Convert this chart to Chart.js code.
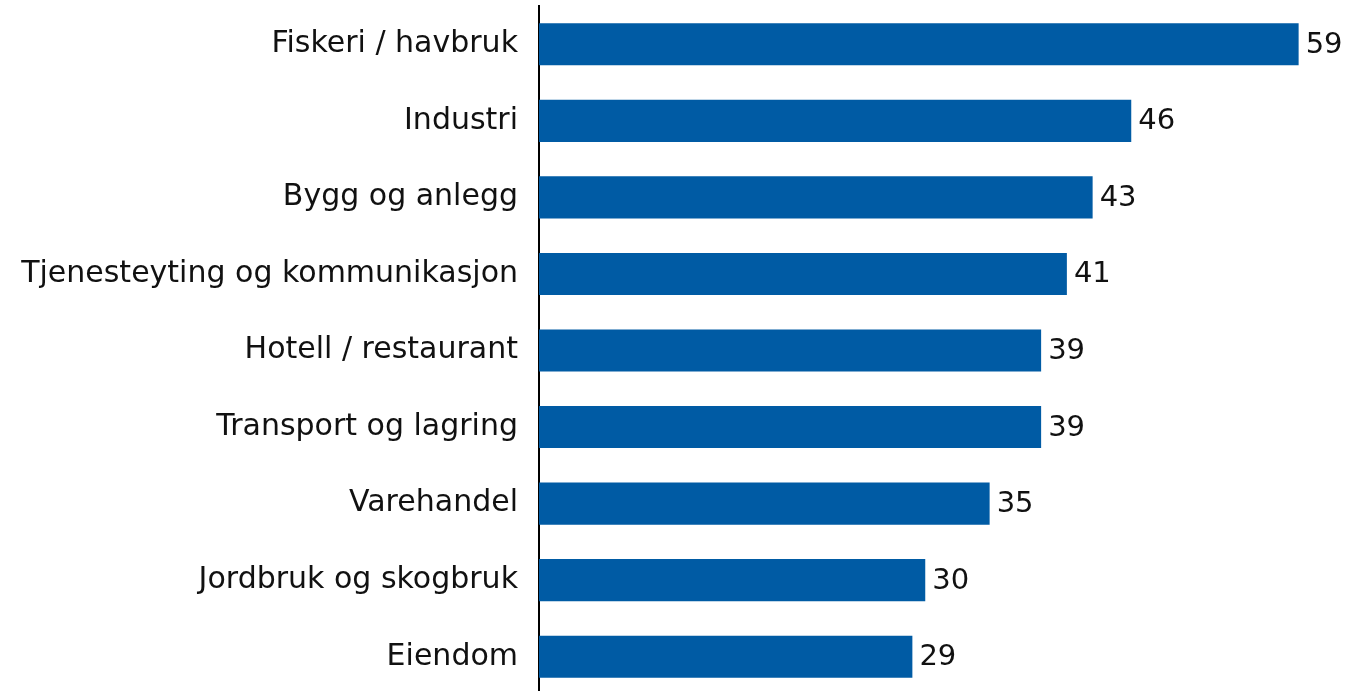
<!DOCTYPE html>
<html>
<head>
<meta charset="utf-8">
<script src="https://cdn.jsdelivr.net/npm/chart.js@4/dist/chart.umd.min.js"></script>
<style>
  html, body { margin: 0; padding: 0; background: #fff; overflow: hidden; }
  #wrap { width: 1366px; height: 695px; }
</style>
</head>
<body>
<div id="wrap"><canvas id="myBarChart"></canvas></div>
<script>
const categories = ["Fiskeri / havbruk", "Industri", "Bygg og anlegg", "Tjenesteyting og kommunikasjon",
  "Hotell / restaurant", "Transport og lagring", "Varehandel", "Jordbruk og skogbruk", "Eiendom"];
const values = [59, 46, 43, 41, 39, 39, 35, 30, 29];

const fontFamily = 'DejaVu Sans';

// values drawn to the right of each bar
const valueLabels = {
  id: 'valueLabels',
  afterDatasetsDraw(chart) {
    const ctx = chart.ctx;
    const meta = chart.getDatasetMeta(0);
    ctx.save();
    ctx.font = '29px ' + fontFamily;
    ctx.fillStyle = '#111';
    ctx.textAlign = 'left';
    ctx.textBaseline = 'middle';
    meta.data.forEach((bar, i) => {
      ctx.fillText(values[i], bar.x + 7, bar.y + 1);
    });
    ctx.restore();
  }
};

var barCtx = document.getElementById('myBarChart').getContext('2d');
var myBarChart = new Chart(barCtx, {
  type: 'bar',
  data: {
    labels: categories,
    datasets: [{
      data: values,
      backgroundColor: '#005BA4',
      categoryPercentage: 1,
      barPercentage: 0.55
    }]
  },
  plugins: [valueLabels],
  options: {
    indexAxis: 'y',
    responsive: true,
    maintainAspectRatio: false,
    animation: false,
    layout: { padding: { top: 6, right: 3, left: 0, bottom: 0 } },
    plugins: {
      legend: { display: false },
      tooltip: { enabled: false }
    },
    scales: {
      x: {
        display: false,
        min: 0,
        max: 64
      },
      y: {
        afterFit(scale) {
          scale.width = 539;
          scale.paddingTop = 0;
          scale.paddingBottom = 0;
        },
        grid: { display: false, drawTicks: false },
        border: { display: true, color: '#000', width: 2 },
        ticks: {
          padding: 21,
          color: '#111',
          font: { family: fontFamily, size: 30 }
        }
      }
    }
  }
});
</script>
</body>
</html>
